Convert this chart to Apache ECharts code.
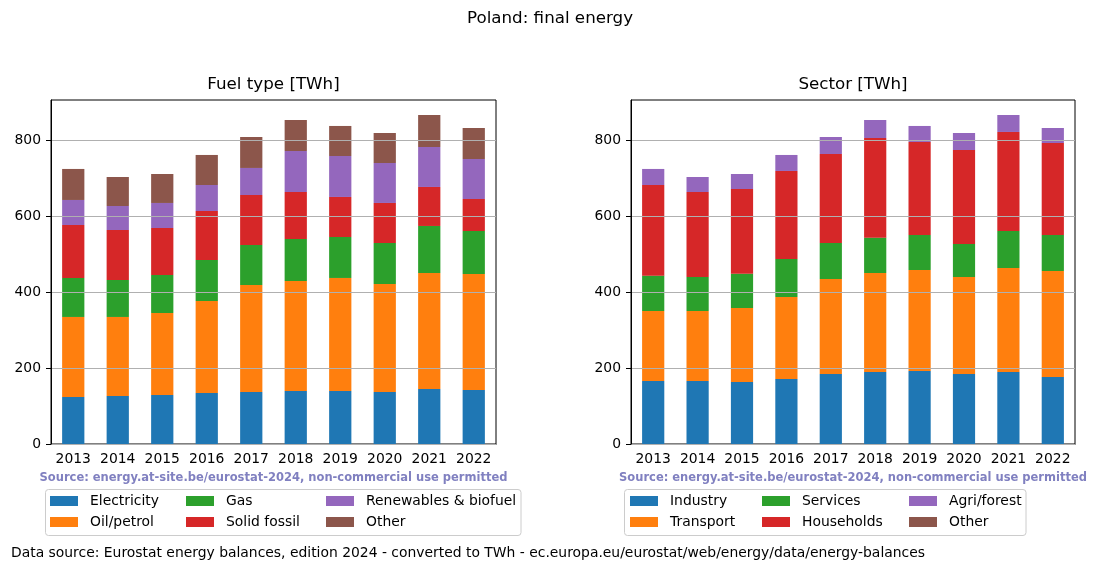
<!DOCTYPE html>
<html>
<head>
<meta charset="utf-8">
<script src="https://cdn.jsdelivr.net/npm/echarts@6/dist/echarts.min.js"></script>
<style>
html,body{margin:0;padding:0;background:#fff;}
#chart{width:1100px;height:572px;}
</style>
</head>
<body>
<div id="chart"></div>
<script>
// ---- data (TWh) ----
const years = ['2013','2014','2015','2016','2017','2018','2019','2020','2021','2022'];
const yTicks = [0, 200, 400, 600, 800];

// Fuel type
const fuelNames = ['Electricity','Oil/petrol','Gas','Solid fossil','Renewables & biofuel','Other'];
const electricity = [123.7,126.3,128.9,134.2,136.8,139.4,139.4,136.8,144.7,142.1];
const oilPetrol   = [210.5,207.9,215.8,242.0,281.5,289.5,297.4,284.2,305.2,305.2];
const gas         = [102.6, 97.3, 99.9,107.9,105.3,110.5,107.8,107.8,123.7,113.1];
const solidFossil = [139.4,131.5,123.7,128.9,131.5,123.6,105.3,105.3,102.6, 84.2];
const renewables  = [ 65.8, 63.2, 65.8, 68.4, 71.1,107.9,107.8,105.2,105.2,105.2];
const fuelOther   = [ 81.6, 76.3, 76.3, 79.0, 81.5, 81.5, 79.0, 78.9, 84.2, 81.6];

// Sector
const sectorNames = ['Industry','Transport','Services','Households','Agri/forest','Other'];
const industry    = [165.8,165.8,163.1,171.0,184.2,189.4,192.1,184.2,189.4,176.3];
const transport   = [184.1,184.1,194.7,215.8,249.9,260.5,265.7,255.2,273.6,278.9];
const services    = [ 93.0, 89.5, 90.3, 99.9, 94.7, 93.0, 92.1, 86.8, 97.4, 94.7];
const households  = [238.5,223.6,222.8,231.6,234.2,262.2,244.7,247.3,260.5,242.0];
const agriForest  = [ 42.2, 39.5, 39.5, 42.1, 44.7, 47.3, 42.1, 44.7, 44.7, 39.5];
const sectorOther = [  0,    0,    0,    0,    0,    0,    0,    0,    0,    0  ];

const fuelData = [electricity, oilPetrol, gas, solidFossil, renewables, fuelOther];
const sectorData = [industry, transport, services, households, agriForest, sectorOther];

const colors = ['#1f77b4','#ff7f0e','#2ca02c','#d62728','#9467bd','#8c564b'];
const FONT = 'DejaVu Sans';

const chart = echarts.init(document.getElementById('chart'), null, {renderer:'canvas'});

function xAxis(gi){
  return {
    type:'category', gridIndex:gi, data:years, boundaryGap:true,
    axisLine:{lineStyle:{color:'#000', width:1}},
    axisTick:{alignWithLabel:true, interval:0, length:5, lineStyle:{color:'#000'}},
    axisLabel:{color:'#000', fontFamily:FONT, fontSize:13.9, margin:8, interval:0, hideOverlap:false},
    splitLine:{show:false}
  };
}
function yAxis(gi){
  return {
    type:'value', gridIndex:gi, min:0, max:905, interval:200, z:5,
    axisLine:{show:true, lineStyle:{color:'#000', width:1}},
    axisTick:{show:true, length:5, lineStyle:{color:'#000'}, customValues:yTicks},
    axisLabel:{color:'#000', fontFamily:FONT, fontSize:13.9, margin:10, customValues:yTicks},
    splitLine:{show:true, lineStyle:{color:'#b0b0b0', width:1}}
  };
}

const series = [];
fuelNames.forEach((n,i)=>{
  series.push({name:n, type:'bar', stack:'fuel', xAxisIndex:0, yAxisIndex:0,
    barWidth:'50%', data:fuelData[i], itemStyle:{color:colors[i]}, emphasis:{disabled:true}});
});
sectorNames.forEach((n,i)=>{
  series.push({name:n, type:'bar', stack:'sector', xAxisIndex:1, yAxisIndex:1,
    barWidth:'50%', data:sectorData[i], itemStyle:{color:colors[i]}, emphasis:{disabled:true}});
});

function legendCol(left, names){
  return {
    orient:'vertical', left:left, top:494, padding:0,
    itemWidth:28, itemHeight:10, itemGap:7, icon:'rect', selectedMode:false,
    data:names,
    textStyle:{color:'#000', fontFamily:FONT, fontSize:13.9, lineHeight:14, padding:[0,0,0,7]}
  };
}

function txt(x, y, text, font, fill, align){
  return {type:'text', x:x, y:y, z:10, silent:true,
    style:{text:text, fill:fill||'#000', font:font, align:align||'center', verticalAlign:'middle'}};
}

const srcText = 'Source: energy.at-site.be/eurostat-2024, non-commercial use permitted';
const srcFont = 'bold 11.5px "' + FONT + '"';

const option = {
  animation:false,
  backgroundColor:'#fff',
  color:colors,
  grid:[
    {left:51, top:100, width:445, height:344, show:true, borderColor:'#000', borderWidth:1, backgroundColor:'transparent', containLabel:false},
    {left:631, top:100, width:444, height:344, show:true, borderColor:'#000', borderWidth:1, backgroundColor:'transparent', containLabel:false}
  ],
  xAxis:[xAxis(0), xAxis(1)],
  yAxis:[yAxis(0), yAxis(1)],
  legend:[
    legendCol(50, [fuelNames[0], fuelNames[1]]),
    legendCol(186, [fuelNames[2], fuelNames[3]]),
    legendCol(326, [fuelNames[4], fuelNames[5]]),
    legendCol(630, [sectorNames[0], sectorNames[1]]),
    legendCol(762, [sectorNames[2], sectorNames[3]]),
    legendCol(909, [sectorNames[4], sectorNames[5]])
  ],
  graphic:[
    {type:'rect', z:-1, silent:true, shape:{x:45.5, y:489.5, width:475.5, height:46, r:3}, style:{fill:'rgba(255,255,255,0.8)', stroke:'#cccccc', lineWidth:1}},
    {type:'rect', z:-1, silent:true, shape:{x:624.5, y:489.5, width:401.5, height:46, r:3}, style:{fill:'rgba(255,255,255,0.8)', stroke:'#cccccc', lineWidth:1}},
    txt(550, 19, 'Poland: final energy', '16.7px "' + FONT + '"'),
    txt(273.5, 85, 'Fuel type [TWh]', '16.7px "' + FONT + '"'),
    txt(853, 85, 'Sector [TWh]', '16.7px "' + FONT + '"'),
    txt(273.5, 478, srcText, srcFont, '#8080c0'),
    txt(853, 478, srcText, srcFont, '#8080c0'),
    txt(11, 553, 'Data source: Eurostat energy balances, edition 2024 - converted to TWh - ec.europa.eu/eurostat/web/energy/data/energy-balances', '13.9px "' + FONT + '"', '#000', 'left')
  ],
  series:series
};
chart.setOption(option);
</script>
</body>
</html>
